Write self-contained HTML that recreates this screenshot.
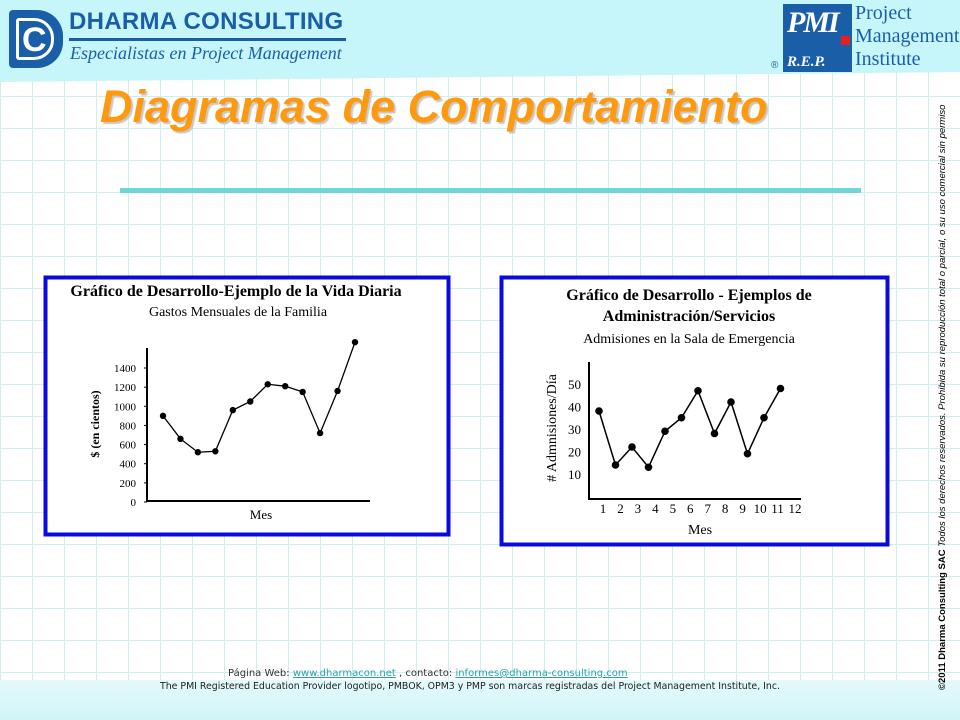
<!DOCTYPE html>
<html><head><meta charset="utf-8">
<style>
*{margin:0;padding:0;box-sizing:border-box}
body{width:960px;height:720px;overflow:hidden;position:relative;font-family:"Liberation Sans",sans-serif;
background-color:#fff;
background-image:linear-gradient(#cdeff2 1px,transparent 1px),linear-gradient(90deg,#cdeff2 1px,transparent 1px);
background-size:32px 32px;background-position:0 0}
.abs{position:absolute}
.serif{font-family:"Liberation Serif",serif}
</style></head><body>
<div class="abs" style="left:0;top:0;width:960px;height:82px;background:#c6f6fa;clip-path:polygon(0 0,100% 0,100% 72px,0 82px)"></div>
<div class="abs" style="left:0;top:680px;width:960px;height:40px;background:linear-gradient(#e4f9fb,#d0f5f8)"></div>

<div class="abs" style="left:9px;top:10px;width:54px;height:58px;background:#1b5ea8;border-radius:4px 26px 26px 4px">
  <div class="abs" style="left:7px;top:8px;width:38px;height:42px;border:3px solid #fff;border-radius:3px 20px 20px 3px"></div>
  <div class="abs" style="left:13px;top:11px;font:bold 34px 'Liberation Sans';color:#fff">C</div>
</div>
<div class="abs" style="left:69px;top:8px;font:bold 24px 'Liberation Sans';color:#1b5ea8;letter-spacing:0.3px">DHARMA CONSULTING</div>
<div class="abs" style="left:69px;top:38px;width:277px;height:3px;background:#1b5ea8"></div>
<div class="abs serif" style="left:70px;top:43px;font:italic 18px 'Liberation Serif';color:#1b5ea8">Especialistas en Project Management</div>

<div class="abs" style="left:783px;top:4px;width:69px;height:68px;background:#1b5ea8">
  <div class="abs" style="left:4px;top:2px;font:bold italic 30px 'Liberation Serif';color:#fff;letter-spacing:-2px">PMI</div>
  <div class="abs" style="left:58px;top:32px;width:9px;height:9px;background:#e52020"></div>
  <div class="abs" style="left:4px;top:50px;font:bold italic 15px 'Liberation Serif';color:#fff">R.E.P.</div>
</div>
<div class="abs" style="left:771px;top:60px;font:10px 'Liberation Sans';color:#1b5ea8">®</div>
<div class="abs serif" style="left:855px;top:2px;font:20px/23px 'Liberation Serif';color:#1b5ea8">Project<br>Management<br>Institute</div>

<div class="abs" style="left:100px;top:81px;font:bold italic 45px 'Liberation Sans';color:#ff9a10;text-shadow:2px 2px 1px #c8c8c8;white-space:nowrap">Diagramas de Comportamiento</div>
<div class="abs" style="left:120px;top:188px;width:741px;height:5px;background:#6fd6d6"></div>

<div class="abs" style="left:937px;top:690px;transform-origin:0 0;transform:rotate(-90deg);white-space:nowrap;font:9.5px 'Liberation Sans';color:#000;width:615px"><b>©2011 Dharma Consulting SAC</b> <i>Todos los derechos reservados. Prohibida su reproducción total o parcial, o su uso comercial sin permiso</i></div>

<div class="abs" style="left:228px;top:668px;font:10px 'DejaVu Sans';color:#333;white-space:nowrap">Página Web: <span style="color:#2aa3a3;text-decoration:underline">www.dharmacon.net</span> , contacto: <span style="color:#2aa3a3;text-decoration:underline">informes@dharma-consulting.com</span></div>
<div class="abs" style="left:160px;top:681px;font:9.4px 'DejaVu Sans';color:#222;white-space:nowrap">The PMI Registered Education Provider logotipo, PMBOK, OPM3 y PMP son marcas registradas del Project Management Institute, Inc.</div>

<svg class="abs" style="left:0;top:0" width="960" height="720" font-family="Liberation Serif, serif">
 <rect x="45.5" y="277.5" width="403" height="257" fill="#fff" stroke="#0a0adc" stroke-width="4"/>
 <rect x="501.5" y="277.5" width="386" height="267" fill="#fff" stroke="#0a0adc" stroke-width="4"/>
 <text x="236" y="296" text-anchor="middle" font-size="16" font-weight="bold">Gráfico de Desarrollo-Ejemplo de la Vida Diaria</text>
 <text x="238" y="316" text-anchor="middle" font-size="14">Gastos Mensuales de la Familia</text>
 <text x="689" y="300" text-anchor="middle" font-size="16" font-weight="bold">Gráfico de Desarrollo - Ejemplos de</text>
 <text x="689" y="321" text-anchor="middle" font-size="16" font-weight="bold">Administración/Servicios</text>
 <text x="689" y="343" text-anchor="middle" font-size="14">Admisiones en la Sala de Emergencia</text>
 <g id="left"></g>
 <g id="right"></g>
</svg>
<script>
const leftValues=[900,660,520,530,960,1050,1230,1210,1150,720,1160,1670];
const leftTicks=[0,200,400,600,800,1000,1200,1400];
const rightValues=[38,14,22,13,29,35,47,28,42,19,35,48];
const rightTicks=[10,20,30,40,50];
const rightMonths=[1,2,3,4,5,6,7,8,9,10,11,12];
const NS='http://www.w3.org/2000/svg';
function mk(p,t,a){const e=document.createElementNS(NS,t);for(const k in a)e.setAttribute(k,a[k]);p.appendChild(e);return e;}
// left chart
(function(){
 const g=document.getElementById('left');
 const y=v=>502-v*(134/1400), x=i=>163+i*(192/11);
 let e=mk(g,'line',{x1:147,y1:348,x2:147,y2:502,stroke:'#000','stroke-width':2});
 
 e=mk(g,'line',{x1:147,y1:501,x2:370,y2:501,stroke:'#000','stroke-width':2});
 
 leftTicks.forEach(t=>{
  const tx=mk(g,'text',{x:136,y:y(t)+4,'text-anchor':'end','font-size':11});tx.textContent=t;
  
  mk(g,'line',{x1:144,y1:y(t),x2:147,y2:y(t),stroke:'#000'});
 });
 e=mk(g,'text',{x:261,y:519,'text-anchor':'middle','font-size':13});e.textContent='Mes';
 
 e=mk(g,'text',{transform:'translate(99,424) rotate(-90)','text-anchor':'middle','font-size':12,'font-weight':'bold'});e.textContent='$ (en cientos)';
 
 e=mk(g,'polyline',{points:leftValues.map((v,i)=>x(i)+','+y(v)).join(' '),fill:'none',stroke:'#000','stroke-width':1.3});
 
 leftValues.forEach((v,i)=>{const c=mk(g,'circle',{cx:x(i),cy:y(v),r:3.2,fill:'#000'});
  });
})();
// right chart
(function(){
 const g=document.getElementById('right');
 const y=v=>496.5-v*2.25, x=i=>599+i*16.5, mx=m=>603+(m-1)*(192/11);
 let e=mk(g,'line',{x1:589,y1:362,x2:589,y2:500,stroke:'#000','stroke-width':2});
 
 e=mk(g,'line',{x1:589,y1:499,x2:801,y2:499,stroke:'#000','stroke-width':2});
 
 rightTicks.forEach(t=>{
  const tx=mk(g,'text',{x:581,y:y(t)+5,'text-anchor':'end','font-size':13});tx.textContent=t;
  
 });
 rightMonths.forEach(m=>{
  const tx=mk(g,'text',{x:mx(m),y:513,'text-anchor':'middle','font-size':13});tx.textContent=m;
  
 });
 e=mk(g,'text',{x:700,y:534,'text-anchor':'middle','font-size':14});e.textContent='Mes';
 
 e=mk(g,'text',{transform:'translate(556,428) rotate(-90)','text-anchor':'middle','font-size':14});e.textContent='# Admnisiones/Día';
 
 e=mk(g,'polyline',{points:rightValues.map((v,i)=>x(i)+','+y(v)).join(' '),fill:'none',stroke:'#000','stroke-width':1.5});
 
 rightValues.forEach((v,i)=>{const c=mk(g,'circle',{cx:x(i),cy:y(v),r:3.8,fill:'#000'});
  });
})();
</script>
</body></html>
